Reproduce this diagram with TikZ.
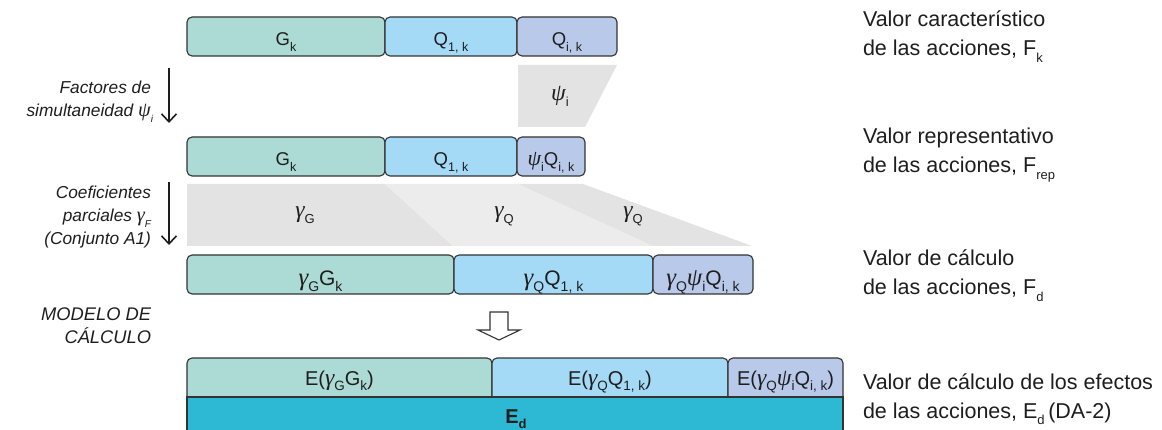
\documentclass[tikz,border=0pt]{standalone}
\usepackage{fontspec}
\setmainfont{Liberation Sans}
\newfontfamily\grkfont{Liberation Serif}[Scale=1.18]
\usetikzlibrary{arrows.meta}

% Greek letters in a serif italic, subscripts set small and low
\newcommand\gk[1]{{\grkfont\itshape #1}}
\newcommand\lo[2][12.5]{\raisebox{-0.55ex}{\fontsize{#1}{#1}\selectfont #2}}

\definecolor{cG}{HTML}{ACDAD4}
\definecolor{cQ}{HTML}{A4DAF6}
\definecolor{cP}{HTML}{B9C9EA}
\definecolor{cE}{HTML}{2DB9D3}
\definecolor{bandA}{HTML}{E3E3E3}
\definecolor{bandB}{HTML}{ECECEC}
\definecolor{edge}{HTML}{333333}
\definecolor{ink}{HTML}{1E1E1E}

\tikzset{
  blk/.style={draw=edge, line width=1.1pt, rounded corners=5pt,
    minimum height=39pt, inner sep=0pt, outer sep=0pt, anchor=north west,
    text=ink, font=\fontsize{18.5}{18.5}\selectfont, text height=19pt, text depth=0pt},
  bigblk/.style={blk, font=\fontsize{21}{21}\selectfont, text height=22pt},
  txt/.style={inner sep=0pt, outer sep=0pt, text=ink},
  rlab/.style={txt, anchor=base west, font=\fontsize{21.5}{21.5}\selectfont},
  llab/.style={txt, anchor=base east, font=\fontsize{17.3}{17.3}\selectfont\itshape},
  glab/.style={txt, anchor=base, font=\fontsize{20}{20}\selectfont},
  elab/.style={txt, anchor=base, font=\fontsize{20}{20}\selectfont},
  flow/.style={draw=ink, line width=1.4pt, -{Straight Barb[length=8pt,width=15pt,line width=1.6pt]}},
}

\begin{document}
\begin{tikzpicture}[x=1pt,y=-1pt]
\useasboundingbox (0,0) rectangle (1162,430);

% characteristic values
\node[blk, fill=cG, minimum width=198pt] (g1) at (187,17) {G\lo{k}};
\node[blk, fill=cQ, minimum width=132pt] (q1) at (385,17) {Q\lo{1, k}};
\node[blk, fill=cP, minimum width=100pt] (p1) at (517,17) {Q\lo{i, k}};

% combination factor
\fill[bandA] (518,65) -- (617,65) -- (585,127) -- (518,127) -- cycle;
\node[glab] (psi) at (560,101) {\gk{ψ}\lo[13]{i}};

% representative values
\node[blk, fill=cG, minimum width=198pt] (g2) at (187,137) {G\lo{k}};
\node[blk, fill=cQ, minimum width=132pt] (q2) at (385,137) {Q\lo{1, k}};
\node[blk, fill=cP, minimum width=68pt] (p2) at (517,137) {\gk{ψ}\lo{i}Q\lo{i, k}};

% partial factors band
\fill[bandA] (187,184) -- (385,184) -- (453,246) -- (187,246) -- cycle;
\fill[bandB] (385,184) -- (518,184) -- (653,246) -- (453,246) -- cycle;
\fill[bandA] (518,184) -- (583,184) -- (752,246) -- (653,246) -- cycle;
\node[glab] (gG) at (305,218) {\gk{γ}\lo[13]{G}};
\node[glab] (gQa) at (504,218) {\gk{γ}\lo[13]{Q}};
\node[glab] (gQb) at (633,218) {\gk{γ}\lo[13]{Q}};

% design values
\node[bigblk, fill=cG, minimum width=267pt] (g3) at (187,255) {\gk{γ}\lo[14]{G}G\lo[14]{k}};
\node[bigblk, fill=cQ, minimum width=199pt] (q3) at (454,255) {\gk{γ}\lo[14]{Q}Q\lo[14]{1, k}};
\node[bigblk, fill=cP, minimum width=100pt] (p3) at (653,255) {\gk{γ}\lo[14]{Q}\gk{ψ}\lo[14]{i}Q\lo[14]{i, k}};

% structural model arrow
\draw[draw=edge, fill=white, line width=1.1pt]
  (490,312) -- (508,312) -- (508,330) -- (520,330) -- (499,340)
  -- (478,330) -- (490,330) -- cycle;

% effects of the actions
\node[blk, fill=cG, minimum width=305pt, minimum height=48pt] (e1) at (187,358) {};
\node[blk, fill=cQ, minimum width=236pt, minimum height=48pt] (e2) at (492,358) {};
\node[blk, fill=cP, minimum width=115pt, minimum height=48pt] (e3) at (728,358) {};
\draw[draw=edge, fill=cE, line width=1.1pt] (187,397) rectangle (843,445);
\node[elab] (e1t) at (339.5,385) {E(\gk{γ}\lo[13.5]{G}G\lo[13.5]{k})};
\node[elab] (e2t) at (610,385) {E(\gk{γ}\lo[13.5]{Q}Q\lo[13.5]{1, k})};
\node[elab] (e3t) at (785.5,385) {E(\gk{γ}\lo[13.5]{Q}\gk{ψ}\lo[13.5]{i}Q\lo[13.5]{i, k})};
\node[txt, anchor=base, font=\fontsize{20}{20}\selectfont\bfseries] (ed) at (516,423) {E\lo[13]{\bfseries d}};

% left side: steps
\coordinate (a1s) at (169,68);
\coordinate (a1e) at (169,123);
\coordinate (a2s) at (169,182);
\coordinate (a2e) at (169,245);
\draw[flow] (a1s) -- (a1e);
\draw[flow] (a2s) -- (a2e);
\node[llab] (f1) at (151,94) {Factores de};
\node[llab] (f2) at (153,117) {simultaneidad \gk{ψ}\lo[10]{\itshape i}};
\node[llab] (c1) at (151,199) {Coeficientes};
\node[llab] (c2) at (151,222) {parciales \gk{γ}\lo[10]{\itshape F}};
\node[llab] (c3) at (151,245) {(Conjunto A1)};
\node[llab, font=\fontsize{18.3}{18.3}\selectfont\itshape] (m1) at (151,321) {MODELO DE};
\node[llab, font=\fontsize{18.3}{18.3}\selectfont\itshape] (m2) at (151,344) {CÁLCULO};

% right side: descriptions
\node[rlab] (r1a) at (863,27) {Valor característico};
\node[rlab] (r1b) at (863,56) {de las acciones, F\lo[13]{k}};
\node[rlab] (r2a) at (863,144) {Valor representativo};
\node[rlab] (r2b) at (863,173) {de las acciones, F\lo[13]{rep}};
\node[rlab] (r3a) at (863,266) {Valor de cálculo};
\node[rlab] (r3b) at (863,295) {de las acciones, F\lo[13]{d}};
\node[rlab] (r4a) at (863,389) {Valor de cálculo de los efectos};
\node[rlab] (r4b) at (863,418) {de las acciones, E\lo[13]{d}\,(DA-2)};
\end{tikzpicture}
\end{document}
